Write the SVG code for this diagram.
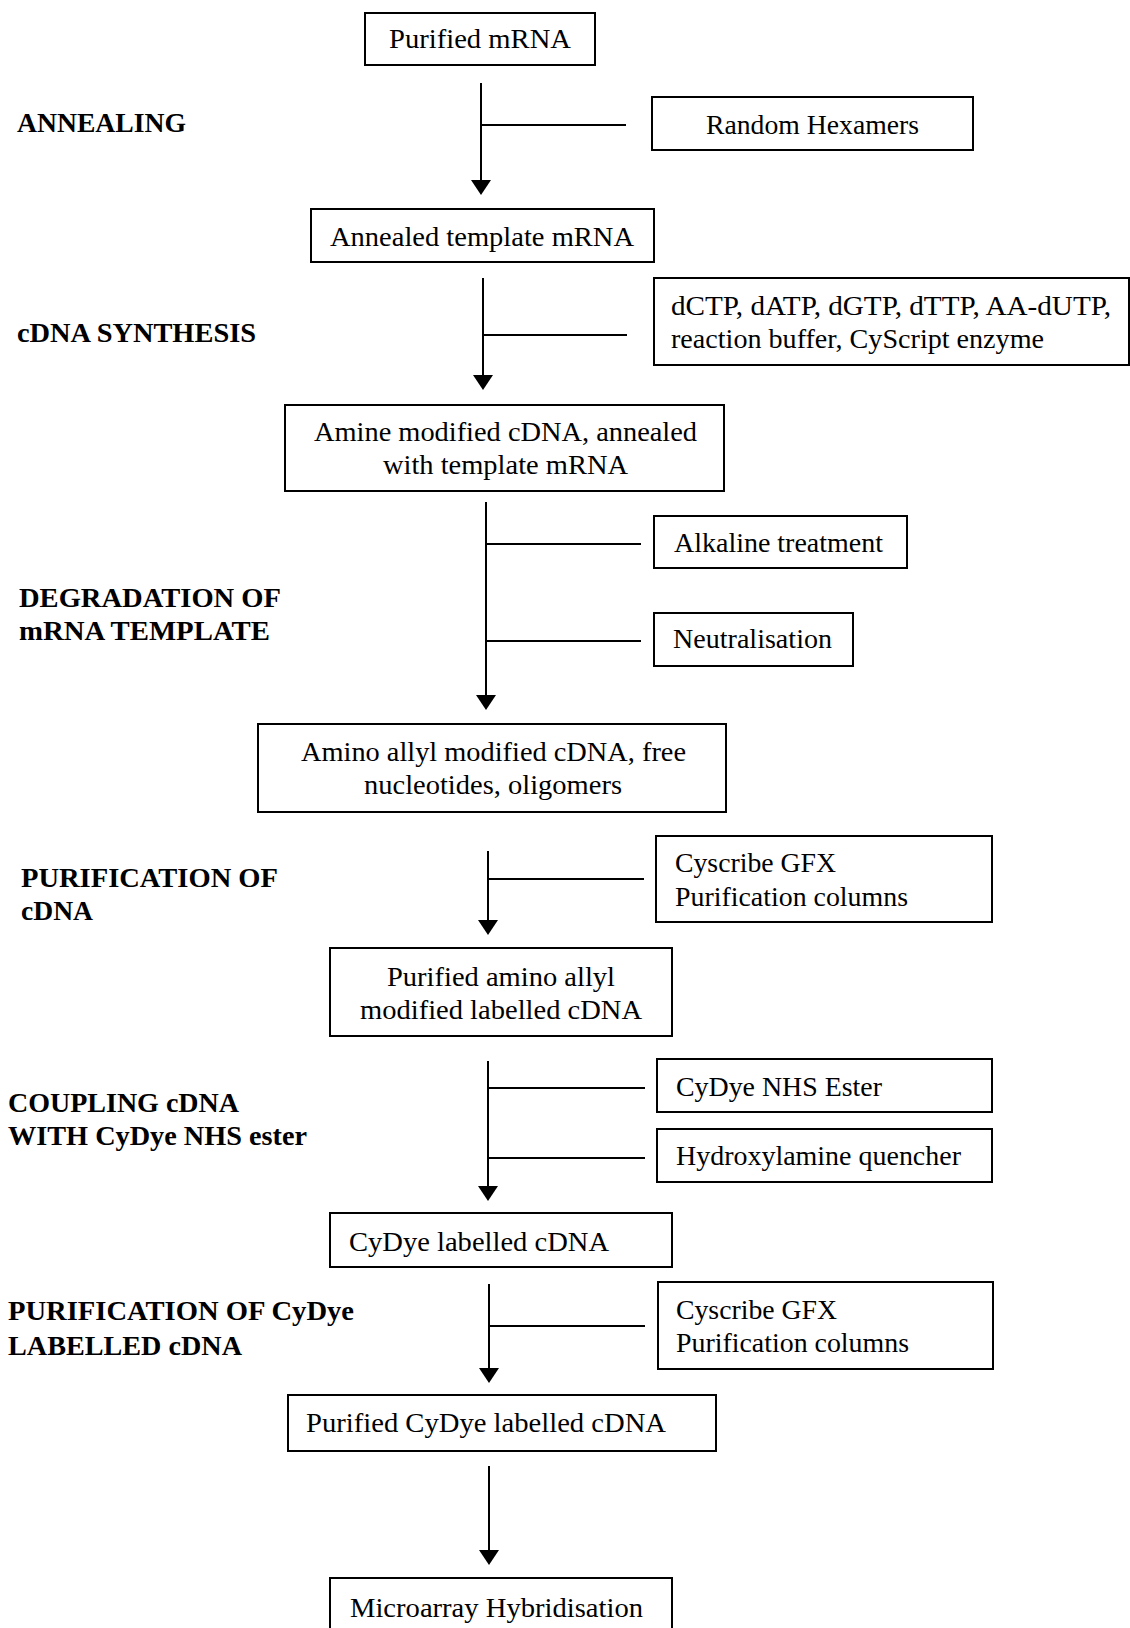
<svg xmlns="http://www.w3.org/2000/svg" width="1130" height="1628" viewBox="0 0 1130 1628">
<style>
.box{fill:#fff;stroke:#000;stroke-width:2}
.t{font-family:"Liberation Serif","Times New Roman",serif;font-size:27.5px;fill:#000}
.lbl{font-family:"Liberation Serif","Times New Roman",serif;font-size:27px;font-weight:bold;fill:#000}
.ln{stroke:#000;stroke-width:2;fill:none}
</style>
<rect width="1130" height="1628" fill="#fff"/>
<g id="labels">
<text class="lbl" x="17" y="132" textLength="169" lengthAdjust="spacingAndGlyphs">ANNEALING</text>
<text class="lbl" x="17" y="342" textLength="239" lengthAdjust="spacingAndGlyphs">cDNA SYNTHESIS</text>
<text class="lbl" x="19" y="607" textLength="262" lengthAdjust="spacingAndGlyphs">DEGRADATION OF</text>
<text class="lbl" x="19" y="640" textLength="251" lengthAdjust="spacingAndGlyphs">mRNA TEMPLATE</text>
<text class="lbl" x="21" y="887" textLength="257" lengthAdjust="spacingAndGlyphs">PURIFICATION OF</text>
<text class="lbl" x="21" y="920" textLength="72" lengthAdjust="spacingAndGlyphs">cDNA</text>
<text class="lbl" x="8" y="1112" textLength="231" lengthAdjust="spacingAndGlyphs">COUPLING cDNA</text>
<text class="lbl" x="8" y="1145" textLength="299" lengthAdjust="spacingAndGlyphs">WITH CyDye NHS ester</text>
<text class="lbl" x="8" y="1320" textLength="346" lengthAdjust="spacingAndGlyphs">PURIFICATION OF CyDye</text>
<text class="lbl" x="8" y="1355" textLength="234" lengthAdjust="spacingAndGlyphs">LABELLED cDNA</text>
</g>
<g id="connectors">
<line class="ln" x1="481" y1="83" x2="481" y2="182"/><path d="M471,180 L491,180 L481,195 Z"/>
<line class="ln" x1="481" y1="125" x2="626" y2="125"/>
<line class="ln" x1="483" y1="278" x2="483" y2="377"/><path d="M473,375 L493,375 L483,390 Z"/>
<line class="ln" x1="483" y1="335" x2="627" y2="335"/>
<line class="ln" x1="486" y1="502" x2="486" y2="697"/><path d="M476,695 L496,695 L486,710 Z"/>
<line class="ln" x1="486" y1="544" x2="641" y2="544"/>
<line class="ln" x1="486" y1="641" x2="641" y2="641"/>
<line class="ln" x1="488" y1="851" x2="488" y2="922"/><path d="M478,920 L498,920 L488,935 Z"/>
<line class="ln" x1="488" y1="879" x2="644" y2="879"/>
<line class="ln" x1="488" y1="1061" x2="488" y2="1188"/><path d="M478,1186 L498,1186 L488,1201 Z"/>
<line class="ln" x1="488" y1="1088" x2="645" y2="1088"/>
<line class="ln" x1="488" y1="1158" x2="645" y2="1158"/>
<line class="ln" x1="489" y1="1284" x2="489" y2="1370"/><path d="M479,1368 L499,1368 L489,1383 Z"/>
<line class="ln" x1="489" y1="1326" x2="645" y2="1326"/>
<line class="ln" x1="489" y1="1466" x2="489" y2="1552"/><path d="M479,1550 L499,1550 L489,1565 Z"/>
</g>
<g id="n-purified-mrna"><rect class="box" x="365" y="13" width="230" height="52"/><text class="t" x="389" y="48" textLength="182" lengthAdjust="spacingAndGlyphs">Purified mRNA</text></g>
<g id="n-random-hexamers"><rect class="box" x="652" y="97" width="321" height="53"/><text class="t" x="706" y="134" textLength="213" lengthAdjust="spacingAndGlyphs">Random Hexamers</text></g>
<g id="n-annealed"><rect class="box" x="311" y="209" width="343" height="53"/><text class="t" x="330" y="246" textLength="304" lengthAdjust="spacingAndGlyphs">Annealed template mRNA</text></g>
<g id="n-dntp"><rect class="box" x="654" y="278" width="475" height="87"/><text class="t" x="671" y="315" textLength="440" lengthAdjust="spacingAndGlyphs">dCTP, dATP, dGTP, dTTP, AA-dUTP,</text><text class="t" x="671" y="348" textLength="373" lengthAdjust="spacingAndGlyphs">reaction buffer, CyScript enzyme</text></g>
<g id="n-amine"><rect class="box" x="285" y="405" width="439" height="86"/><text class="t" x="314" y="441" textLength="383" lengthAdjust="spacingAndGlyphs">Amine modified cDNA, annealed</text><text class="t" x="383" y="474" textLength="245" lengthAdjust="spacingAndGlyphs">with template mRNA</text></g>
<g id="n-alkaline"><rect class="box" x="654" y="516" width="253" height="52"/><text class="t" x="674" y="552" textLength="209" lengthAdjust="spacingAndGlyphs">Alkaline treatment</text></g>
<g id="n-neutral"><rect class="box" x="654" y="613" width="199" height="53"/><text class="t" x="673" y="648" textLength="159" lengthAdjust="spacingAndGlyphs">Neutralisation</text></g>
<g id="n-amino-allyl"><rect class="box" x="258" y="724" width="468" height="88"/><text class="t" x="301" y="761" textLength="385" lengthAdjust="spacingAndGlyphs">Amino allyl modified cDNA, free</text><text class="t" x="364" y="794" textLength="258" lengthAdjust="spacingAndGlyphs">nucleotides, oligomers</text></g>
<g id="n-cyscribe1"><rect class="box" x="656" y="836" width="336" height="86"/><text class="t" x="675" y="872" textLength="161" lengthAdjust="spacingAndGlyphs">Cyscribe GFX</text><text class="t" x="675" y="906" textLength="233" lengthAdjust="spacingAndGlyphs">Purification columns</text></g>
<g id="n-purified-aa"><rect class="box" x="330" y="948" width="342" height="88"/><text class="t" x="387" y="986" textLength="228" lengthAdjust="spacingAndGlyphs">Purified amino allyl</text><text class="t" x="360" y="1019" textLength="282" lengthAdjust="spacingAndGlyphs">modified labelled cDNA</text></g>
<g id="n-cydye-nhs"><rect class="box" x="657" y="1059" width="335" height="53"/><text class="t" x="676" y="1096" textLength="206" lengthAdjust="spacingAndGlyphs">CyDye NHS Ester</text></g>
<g id="n-hydroxylamine"><rect class="box" x="657" y="1129" width="335" height="53"/><text class="t" x="676" y="1165" textLength="285" lengthAdjust="spacingAndGlyphs">Hydroxylamine quencher</text></g>
<g id="n-cydye-labelled"><rect class="box" x="330" y="1213" width="342" height="54"/><text class="t" x="349" y="1251" textLength="260" lengthAdjust="spacingAndGlyphs">CyDye labelled cDNA</text></g>
<g id="n-cyscribe2"><rect class="box" x="658" y="1282" width="335" height="87"/><text class="t" x="676" y="1319" textLength="161" lengthAdjust="spacingAndGlyphs">Cyscribe GFX</text><text class="t" x="676" y="1352" textLength="233" lengthAdjust="spacingAndGlyphs">Purification columns</text></g>
<g id="n-purified-cydye"><rect class="box" x="288" y="1395" width="428" height="56"/><text class="t" x="306" y="1432" textLength="360" lengthAdjust="spacingAndGlyphs">Purified CyDye labelled cDNA</text></g>
<g id="n-microarray"><rect class="box" x="330" y="1578" width="342" height="60"/><text class="t" x="350" y="1617" textLength="293" lengthAdjust="spacingAndGlyphs">Microarray Hybridisation</text></g>
</svg>
